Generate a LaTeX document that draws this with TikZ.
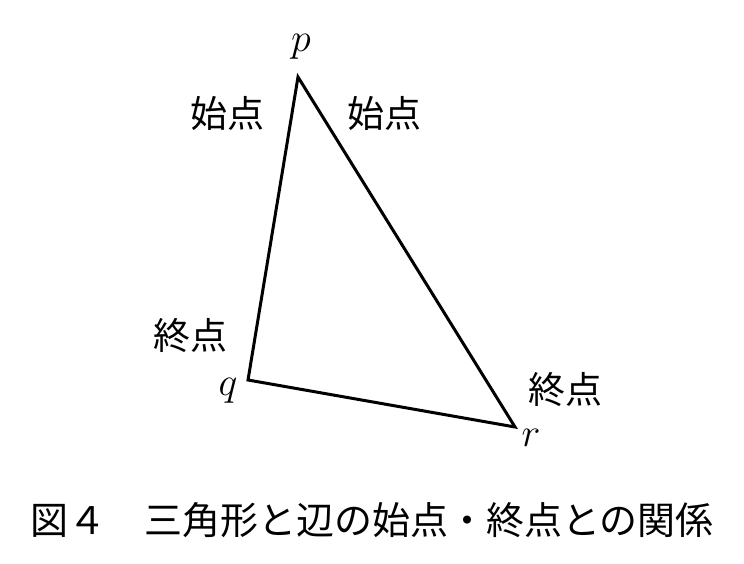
\RequirePackage{fix-cm}
\documentclass[tikz,border=0pt]{standalone}
\usepackage{fontspec}
\newfontfamily\cjk{Noto Sans CJK JP}
\usetikzlibrary{positioning}

\begin{document}
\begin{tikzpicture}[x=1pt,y=-1pt,
  vlabel/.style={font=\fontsize{40}{44}\selectfont, inner sep=0pt},
  kanji/.style={font=\cjk\fontsize{37}{40}\selectfont, inner sep=0pt}]
  \useasboundingbox (0,0) rectangle (744,564);
  \begin{scope}[line width=3pt]

  \coordinate (p) at (298,77);
  \coordinate (q) at (248,380);
  \coordinate (r) at (515,427);

  \node[vlabel] (p-lbl) at (301,47) {$p$};
  \node[vlabel] (q-lbl) at (228,391) {$q$};
  \node[vlabel] (r-lbl) at (531,438) {$r$};

  \node[kanji] (s-1) at (227,113) {始点};
  \node[kanji] (s-2) at (384,113) {始点};
  \node[kanji] (e-1) at (190,336) {終点};
  \node[kanji] (e-2) at (565,390) {終点};

  \draw[line join=miter] (p) -- (q) -- (r) -- cycle;

  \end{scope}

  \node[font=\cjk\fontsize{38}{42}\selectfont, inner sep=0pt] (caption) at (372,520)
    {図４　三角形と辺の始点・終点との関係};
\end{tikzpicture}
\end{document}
